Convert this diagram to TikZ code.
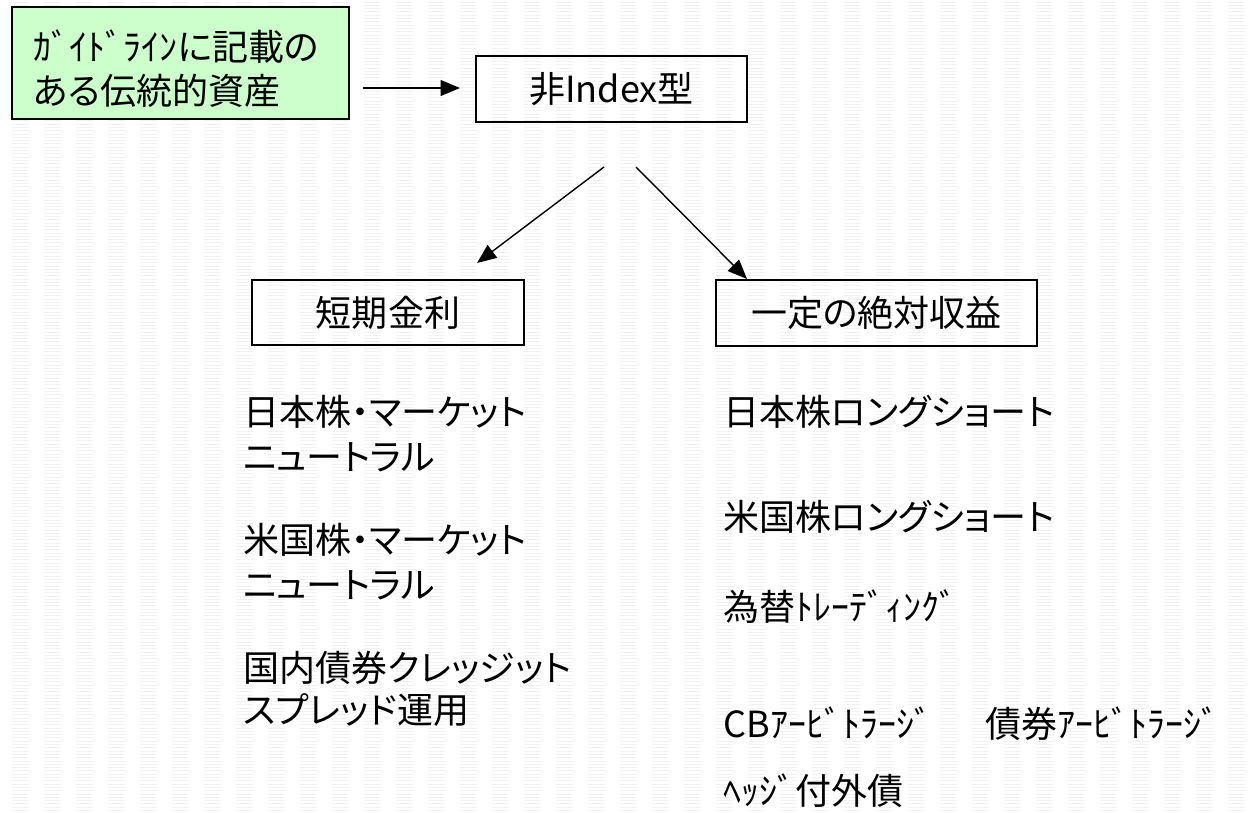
\documentclass[tikz,border=0pt]{standalone}
\usepackage{fontspec}
\usetikzlibrary{arrows.meta}
\newfontfamily\jp{Noto Sans CJK JP}[RawFeature=+palt]
\definecolor{guidegreen}{HTML}{CCFFCC}
\begin{document}
\begin{tikzpicture}[x=0.02cm,y=-0.02cm,
  bgline/.style={draw=black!5, line width=0.5pt, dash pattern=on 0.34cm off 0.3cm, dash phase=0.4cm},
  box/.style={draw=black, line width=1.1pt, inner sep=0pt, font=\jp\fontsize{20.5pt}{24pt}\selectfont},
  item/.style={anchor=base west, inner sep=0pt, font=\jp\fontsize{20.5pt}{24pt}\selectfont},
  conn/.style={line width=0.8pt, -{Triangle[length=11pt,width=9pt]}}]
\useasboundingbox (0,0) rectangle (1254,812);
\fill[white] (0,0) rectangle (1254,812);
\foreach \y in {2,5.3,...,812} \draw[bgline] (0,\y) -- (1254,\y);

% boxes
\node[box, fill=guidegreen, minimum width=6.74cm, minimum height=2.24cm] (guide) at (180.5,63) {};
\node[item] (g1) at (33,60) {ｶﾞｲﾄﾞﾗｲﾝに記載の};
\node[item] (g2) at (33,104) {ある伝統的資産};
\node[box, minimum width=5.42cm, minimum height=1.32cm] (index) at (611.5,89) {非Index型};
\node[box, minimum width=5.44cm, minimum height=1.3cm] (short) at (388,312.5) {短期金利};
\node[box, minimum width=6.42cm, minimum height=1.32cm] (abs) at (876.5,313) {一定の絶対収益};

% connectors
\coordinate (a1s) at (363,88);
\coordinate (a1e) at (460,88);
\coordinate (a2s) at (604,167);
\coordinate (a2e) at (477,263);
\coordinate (a3s) at (636,167);
\coordinate (a3e) at (747,279);
\draw[conn] (a1s) -- (a1e);
\draw[conn] (a2s) -- (a2e);
\draw[conn] (a3s) -- (a3e);

% left list
\node[item] (l1) at (243,425) {日本株・マーケット};
\node[item] (l2) at (243,470) {ニュートラル};
\node[item] (l3) at (243,553) {米国株・マーケット};
\node[item] (l4) at (243,598) {ニュートラル};
\node[item] (l5) at (243,681) {国内債券クレッジット};
\node[item] (l6) at (243,723) {スプレッド運用};

% right list
\node[item] (r1) at (723,425) {日本株ロングショート};
\node[item] (r2) at (723,530) {米国株ロングショート};
\node[item] (r3) at (723,620) {為替ﾄﾚｰﾃﾞｨﾝｸﾞ};
\node[item] (r4) at (723,737) {CBｱｰﾋﾞﾄﾗｰｼﾞ};
\node[item] (r5) at (985,737) {債券ｱｰﾋﾞﾄﾗｰｼﾞ};
\node[item] (r6) at (723,804) {ﾍｯｼﾞ付外債};
\end{tikzpicture}
\end{document}
